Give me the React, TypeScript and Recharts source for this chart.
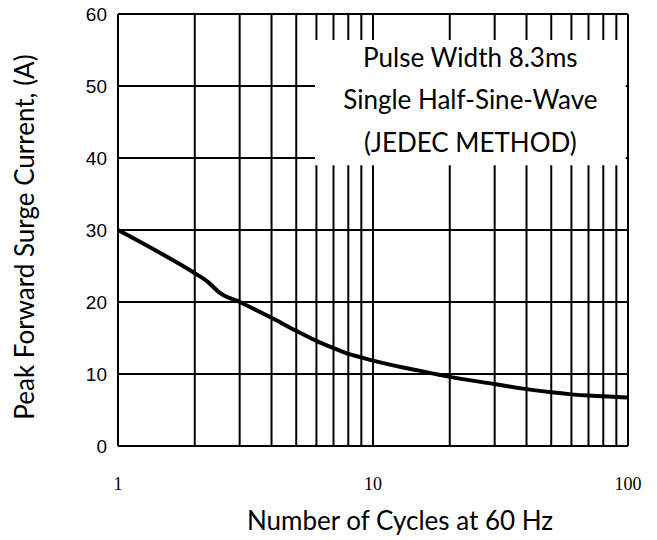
import { CartesianGrid, Label, Line, LineChart, ReferenceArea, XAxis, YAxis } from 'recharts';

const cycles = [1, 1.5, 2, 2.25, 2.5, 3, 4, 5, 6, 7, 8, 9, 10, 15, 20, 30, 40, 50, 60, 70, 80, 90, 100];
const surgeCurrent = [
  30, 26.6, 24.0, 22.8, 21.3, 20.0, 17.8, 16.0, 14.6, 13.6, 12.8, 12.3, 11.85, 10.5, 9.6, 8.6, 7.9, 7.45, 7.17,
  7.0, 6.9, 6.8, 6.75,
];

const xTicks = [1, 2, 3, 4, 5, 6, 7, 8, 9, 10, 20, 30, 40, 50, 60, 70, 80, 90, 100];
const xLabels = [1, 10, 100];
const yTicks = [0, 10, 20, 30, 40, 50, 60];
const noteLines = ['Pulse Width 8.3ms', 'Single Half-Sine-Wave', '(JEDEC METHOD)'];

const data = cycles.map((c, i) => ({ cycles: c, current: surgeCurrent[i] }));

const sans = 'Lato, "Open Sans", sans-serif';

export default function App() {
  return (
    <div style={{ width: 657, height: 540, background: '#fff' }}>
      <style>{'body{margin:0}'}</style>
      <LineChart width={657} height={540} data={data} margin={{ top: 14, right: 29, bottom: 0, left: 0 }}>
        <CartesianGrid stroke="#000" strokeWidth={2} />
        <XAxis
          dataKey="cycles"
          type="number"
          scale="log"
          domain={[1, 100]}
          ticks={xTicks}
          interval={0}
          allowDataOverflow
          tickFormatter={(v: number) => (xLabels.includes(v) ? String(v) : '')}
          tickLine={false}
          axisLine={false}
          tickSize={0}
          tickMargin={31}
          height={94}
          tick={{ fontSize: 18, fill: '#000', fontFamily: '"Liberation Serif", serif' }}
        >
          <Label
            content={() => (
              <text x={400} y={530} textAnchor="middle" fontSize={26} fontFamily={sans} fill="#000">
                Number of Cycles at 60 Hz
              </text>
            )}
          />
        </XAxis>
        <YAxis
          type="number"
          domain={[0, 60]}
          ticks={yTicks}
          interval={0}
          width={118}
          tickLine={false}
          axisLine={false}
          tickSize={0}
          tickMargin={11}
          tick={{ fontSize: 19, fill: '#000', fontFamily: '"Liberation Sans", Arial, sans-serif' }}
        >
          <Label
            content={() => (
              <text
                x={34}
                y={237}
                transform="rotate(-90 34 237)"
                textAnchor="middle"
                fontSize={26}
                fontFamily={sans}
                fill="#000"
              >
                Peak Forward Surge Current, (A)
              </text>
            )}
          />
        </YAxis>
        <ReferenceArea
          x1={5.92}
          x2={98}
          y1={39}
          y2={56.4}
          fill="#fff"
          fillOpacity={1}
          stroke="none"
          ifOverflow="visible"
          label={(props: any) => {
            const vb = props.viewBox;
            const cx = vb.x + vb.width / 2;
            const cy = vb.y + vb.height / 2;
            return (
              <text textAnchor="middle" fontSize={26} fontFamily={sans} fill="#000">
                {noteLines.map((t, i) => (
                  <tspan key={t} x={cx} y={cy + (i - 1) * 42.5} dominantBaseline="middle">
                    {t}
                  </tspan>
                ))}
              </text>
            );
          }}
        />
        <Line
          dataKey="current"
          type="monotone"
          stroke="#000"
          strokeWidth={4}
          dot={false}
          isAnimationActive={false}
        />
      </LineChart>
    </div>
  );
}
